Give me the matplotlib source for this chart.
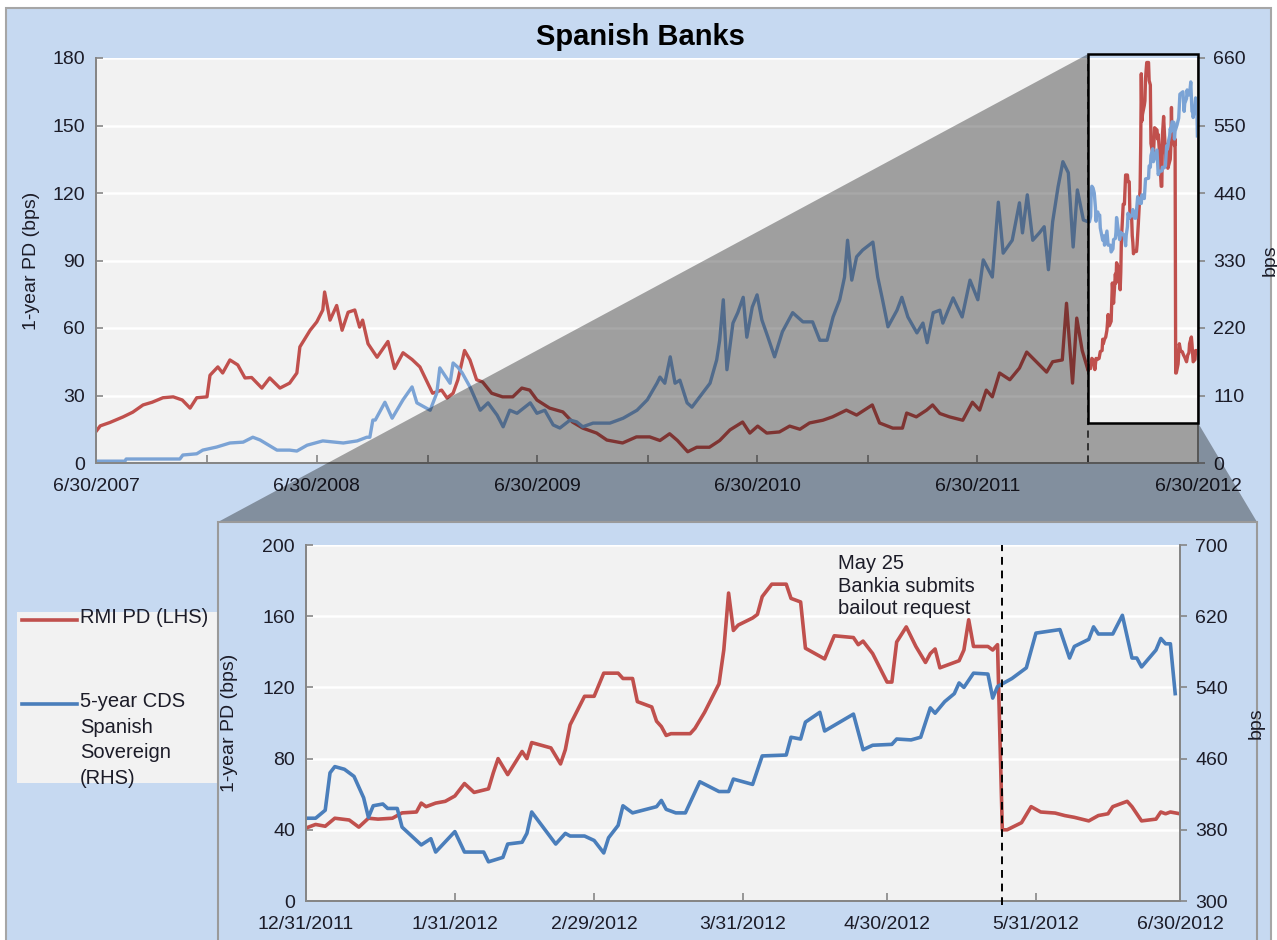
import matplotlib
matplotlib.use("Agg")
import matplotlib.pyplot as plt
import matplotlib.dates as mdates
import matplotlib.transforms as mtransforms
from matplotlib.patches import Rectangle, Polygon
from matplotlib.lines import Line2D
import pandas as pd

plt.rcParams['font.family'] = ['Liberation Sans', 'DejaVu Sans']

# ---- full period 6/30/2007 - 12/2011 ----
rmi_dates = [
    "2007-06-30", "2007-07-07", "2007-07-23", "2007-08-14", "2007-08-30", "2007-09-16",
    "2007-10-01", "2007-10-19", "2007-11-05", "2007-11-20", "2007-12-03", "2007-12-14",
    "2007-12-31", "2008-01-05", "2008-01-18", "2008-01-26", "2008-02-07", "2008-02-20",
    "2008-03-03", "2008-03-14", "2008-03-31", "2008-04-13", "2008-04-30", "2008-05-16",
    "2008-05-28", "2008-06-02", "2008-06-19", "2008-06-30", "2008-07-10", "2008-07-13",
    "2008-07-22", "2008-08-02", "2008-08-11", "2008-08-21", "2008-09-01", "2008-09-09",
    "2008-09-14", "2008-09-23", "2008-10-08", "2008-10-26", "2008-11-06", "2008-11-20",
    "2008-12-05", "2008-12-18", "2008-12-31", "2009-01-08", "2009-01-23", "2009-02-01",
    "2009-02-11", "2009-02-19", "2009-03-02", "2009-03-11", "2009-03-22", "2009-04-01",
    "2009-04-16", "2009-05-04", "2009-05-21", "2009-06-05", "2009-06-18", "2009-06-30",
    "2009-07-21", "2009-08-12", "2009-08-28", "2009-09-14", "2009-10-07", "2009-10-24",
    "2009-11-19", "2009-12-12", "2010-01-03", "2010-01-20", "2010-02-05", "2010-02-18",
    "2010-03-07", "2010-03-22", "2010-04-12", "2010-04-29", "2010-05-16", "2010-06-06",
    "2010-06-18", "2010-07-01", "2010-07-16", "2010-08-06", "2010-08-23", "2010-09-09",
    "2010-09-25", "2010-10-17", "2010-11-02", "2010-11-25", "2010-12-12", "2011-01-07",
    "2011-01-19", "2011-02-10", "2011-02-26", "2011-03-05", "2011-03-21", "2011-04-07",
    "2011-04-17", "2011-04-29", "2011-05-15", "2011-06-06", "2011-06-22", "2011-07-04",
    "2011-07-15", "2011-07-25", "2011-08-06", "2011-08-23", "2011-09-08", "2011-09-20",
    "2011-10-06", "2011-10-23", "2011-11-02", "2011-11-18", "2011-11-25", "2011-12-05",
    "2011-12-12", "2011-12-21",
]
rmi_pd = [
    14, 16.5, 18, 20.5, 22.6, 25.8,
    27, 29, 29.4, 28, 24.4, 29,
    29.4, 39, 42.7, 40, 45.8, 43.6,
    37.8, 38, 33.3, 37.8, 33.3, 35.5,
    40, 51.6, 59, 62.7, 68, 76,
    63.5, 70, 59, 67, 68, 60.4,
    63.5, 53, 47, 54, 42, 49,
    46, 42.7, 35.5, 31, 32.4, 28.9,
    31, 37, 50, 45.8, 37, 36,
    31, 29.4, 29.4, 33.3, 32.4, 28,
    24.4, 22.7, 18.2, 15.5, 13.3, 10.2,
    8.9, 11.6, 11.6, 10, 13, 10,
    5, 7, 7, 10, 14.7, 18.2,
    13.3, 16.4, 13.3, 13.8, 16.4, 15,
    17.8, 19, 20.5, 23.5, 21.3, 25.8,
    17.8, 15.5, 15.5, 22.2, 20.5, 23.5,
    25.8, 22, 20.5, 19, 27, 23.5,
    32.4, 29.4, 40, 37, 42.2, 49.3,
    45, 40.4, 45, 45.8, 71, 35.5,
    64.4, 50,
]

cds_dates = [
    "2007-06-30", "2007-08-17", "2007-08-19", "2007-11-16", "2007-11-21", "2007-12-14",
    "2007-12-24", "2008-01-16", "2008-02-07", "2008-02-29", "2008-03-16", "2008-03-28",
    "2008-04-08", "2008-04-25", "2008-05-16", "2008-05-28", "2008-06-14", "2008-07-10",
    "2008-08-13", "2008-09-05", "2008-09-21", "2008-09-26", "2008-10-01", "2008-10-05",
    "2008-10-21", "2008-11-02", "2008-11-20", "2008-12-05", "2008-12-13", "2009-01-04",
    "2009-01-15", "2009-01-20", "2009-02-06", "2009-02-11", "2009-02-19", "2009-02-26",
    "2009-03-11", "2009-03-28", "2009-04-10", "2009-04-25", "2009-05-05", "2009-05-16",
    "2009-05-28", "2009-06-19", "2009-06-30", "2009-07-13", "2009-07-27", "2009-08-07",
    "2009-08-24", "2009-09-04", "2009-09-14", "2009-10-01", "2009-10-29", "2009-11-20",
    "2009-12-13", "2009-12-30", "2010-01-15", "2010-01-20", "2010-01-28", "2010-02-06",
    "2010-02-14", "2010-02-22", "2010-03-06", "2010-03-14", "2010-03-27", "2010-04-13",
    "2010-04-24", "2010-04-29", "2010-05-05", "2010-05-11", "2010-05-21", "2010-05-29",
    "2010-06-07", "2010-06-13", "2010-06-22", "2010-06-30", "2010-07-08", "2010-07-18",
    "2010-07-29", "2010-08-11", "2010-08-28", "2010-09-14", "2010-09-30", "2010-10-12",
    "2010-10-24", "2010-11-03", "2010-11-14", "2010-11-22", "2010-11-27", "2010-12-04",
    "2010-12-12", "2010-12-22", "2011-01-08", "2011-01-16", "2011-01-24", "2011-02-02",
    "2011-02-17", "2011-02-25", "2011-03-07", "2011-03-22", "2011-04-01", "2011-04-08",
    "2011-04-18", "2011-04-29", "2011-05-04", "2011-05-21", "2011-06-05", "2011-06-18",
    "2011-07-01", "2011-07-10", "2011-07-25", "2011-08-04", "2011-08-12", "2011-08-27",
    "2011-09-08", "2011-09-13", "2011-09-21", "2011-09-30", "2011-10-11", "2011-10-19",
    "2011-10-26", "2011-11-02", "2011-11-11", "2011-11-19", "2011-11-28", "2011-12-06",
    "2011-12-13", "2011-12-23",
]
cds = [
    3, 3, 6.5, 6.5, 13, 15,
    21, 26, 32.6, 34, 42, 37.5,
    31, 21, 21, 19.5, 29, 36,
    32.6, 36, 42, 42, 70, 70,
    99, 73, 103, 124, 98, 86,
    114, 155, 130, 163, 156, 147,
    124, 86, 98, 78, 59, 86,
    81, 98, 81, 86, 62, 57,
    70, 67, 59, 65, 65, 73,
    86, 103, 130, 140, 130, 173,
    130, 135, 98, 91, 108, 130,
    168, 200, 266, 152, 228, 245,
    270, 205, 254, 274, 233, 205,
    173, 214, 245, 230, 230, 200,
    200, 238, 266, 303, 363, 298,
    336, 347, 360, 303, 266, 222,
    249, 270, 238, 212, 228, 196,
    245, 249, 228, 269, 238, 298,
    266, 331, 303, 425, 342, 363,
    424, 375, 437, 363, 375, 385,
    315, 393, 450, 491, 473, 352,
    445, 396,
]

# ---- zoomed period 12/31/2011 - 6/30/2012 ----
zoom_rmi_dates = [
    "2011-12-31", "2012-01-02", "2012-01-04", "2012-01-06", "2012-01-09", "2012-01-11",
    "2012-01-13", "2012-01-15", "2012-01-18", "2012-01-20", "2012-01-23", "2012-01-24",
    "2012-01-25", "2012-01-27", "2012-01-29", "2012-01-31", "2012-02-02", "2012-02-04",
    "2012-02-07", "2012-02-08", "2012-02-09", "2012-02-11", "2012-02-14", "2012-02-15",
    "2012-02-16", "2012-02-20", "2012-02-22", "2012-02-23", "2012-02-24", "2012-02-27",
    "2012-02-29", "2012-03-02", "2012-03-05", "2012-03-06", "2012-03-08", "2012-03-09",
    "2012-03-12", "2012-03-13", "2012-03-14", "2012-03-15", "2012-03-16", "2012-03-20",
    "2012-03-21", "2012-03-23", "2012-03-26", "2012-03-27", "2012-03-28", "2012-03-29",
    "2012-03-30", "2012-04-02", "2012-04-03", "2012-04-04", "2012-04-06", "2012-04-09",
    "2012-04-10", "2012-04-12", "2012-04-13", "2012-04-17", "2012-04-19", "2012-04-23",
    "2012-04-24", "2012-04-25", "2012-04-27", "2012-04-30", "2012-05-01", "2012-05-02",
    "2012-05-04", "2012-05-06", "2012-05-08", "2012-05-09", "2012-05-10", "2012-05-11",
    "2012-05-15", "2012-05-16", "2012-05-17", "2012-05-18", "2012-05-21", "2012-05-22",
    "2012-05-23", "2012-05-24", "2012-05-25", "2012-05-28", "2012-05-30", "2012-06-01",
    "2012-06-04", "2012-06-06", "2012-06-08", "2012-06-11", "2012-06-13", "2012-06-15",
    "2012-06-16", "2012-06-19", "2012-06-20", "2012-06-22", "2012-06-25", "2012-06-26",
    "2012-06-27", "2012-06-28", "2012-06-30",
]
zoom_rmi_pd = [
    41, 43, 42, 46.5, 45.5, 41.5,
    46.5, 46, 46.5, 49.5, 50, 55,
    53, 55, 56, 59, 66, 61,
    63, 72, 80, 71, 84, 80,
    89, 86, 77, 85, 99, 115,
    115, 128, 128, 125, 125, 112,
    109, 101, 98, 93, 94, 94,
    97, 106, 122, 141, 173, 152,
    155, 159, 161, 171, 178, 178,
    170, 168, 142, 136, 149, 148,
    144, 146, 139, 123, 123, 145.5,
    154, 143, 134, 139, 141.6, 131,
    135, 141, 158, 143, 143, 141,
    144, 40, 40, 44, 53, 50,
    49.4, 48, 47, 45, 48, 49,
    53, 56, 53, 45, 46, 50,
    49, 50, 49,
]

zoom_cds_dates = [
    "2011-12-31", "2012-01-02", "2012-01-04", "2012-01-05", "2012-01-06", "2012-01-08",
    "2012-01-10", "2012-01-12", "2012-01-13", "2012-01-14", "2012-01-16", "2012-01-17",
    "2012-01-19", "2012-01-20", "2012-01-24", "2012-01-26", "2012-01-27", "2012-01-31",
    "2012-02-02", "2012-02-06", "2012-02-07", "2012-02-10", "2012-02-11", "2012-02-14",
    "2012-02-15", "2012-02-16", "2012-02-21", "2012-02-23", "2012-02-24", "2012-02-27",
    "2012-02-29", "2012-03-02", "2012-03-03", "2012-03-05", "2012-03-06", "2012-03-08",
    "2012-03-13", "2012-03-14", "2012-03-15", "2012-03-17", "2012-03-19", "2012-03-22",
    "2012-03-26", "2012-03-28", "2012-03-29", "2012-04-02", "2012-04-04", "2012-04-09",
    "2012-04-10", "2012-04-12", "2012-04-13", "2012-04-16", "2012-04-17", "2012-04-23",
    "2012-04-25", "2012-04-27", "2012-05-01", "2012-05-02", "2012-05-05", "2012-05-07",
    "2012-05-09", "2012-05-10", "2012-05-12", "2012-05-14", "2012-05-15", "2012-05-16",
    "2012-05-18", "2012-05-21", "2012-05-22", "2012-05-23", "2012-05-26", "2012-05-29",
    "2012-05-31", "2012-06-05", "2012-06-07", "2012-06-08", "2012-06-11", "2012-06-12",
    "2012-06-13", "2012-06-16", "2012-06-18", "2012-06-20", "2012-06-21", "2012-06-22",
    "2012-06-25", "2012-06-26", "2012-06-27", "2012-06-28", "2012-06-29",
]
zoom_cds = [
    393, 393, 402, 444, 451, 448,
    440, 416, 394, 407, 409, 404,
    404, 383, 363, 370, 355, 378,
    355, 355, 344, 349, 364, 366,
    376, 400, 364, 376, 373, 373,
    368, 354, 371, 385, 407, 399,
    406, 413, 403, 399, 399, 434,
    423, 423, 437, 431, 463, 464,
    484, 482, 501, 512, 491, 510,
    470, 475, 476, 482, 481, 484,
    517, 511, 524, 533, 545, 540,
    556, 555, 528, 541, 550, 562,
    601, 605, 573, 586, 594, 608,
    600, 600, 621, 573, 573, 563,
    582, 595, 589, 589, 533,
]

top_ticks = ["6/30/2007", "6/30/2008", "6/30/2009", "6/30/2010", "6/30/2011", "6/30/2012"]
top_minor = ["12/31/2007", "12/31/2008", "12/31/2009", "12/31/2010", "12/31/2011"]
zoom_ticks = ["12/31/2011", "1/31/2012", "2/29/2012", "3/31/2012", "4/30/2012", "5/31/2012", "6/30/2012"]
event_date = "2012-05-24"
event_text = "May 25\nBankia submits\nbailout request"

RED = '#C0504D'
BLUE = '#4A7EBB'
BLUE_TOP = '#7BA3D5'
PANEL = '#C6D9F1'
PLOT_BG = '#F2F2F2'
AXIS_GREY = '#868686'
TEXT = '#1C1C28'
FS = 14

W, H = 1277, 940


def fig_box(left, top, right, bottom):
    # pixel box measured from the top-left corner -> figure fraction
    return [left / W, 1 - bottom / H, (right - left) / W, (bottom - top) / H]


def fig_pt(x, y):
    return (x / W, 1 - y / H)


def style_axes(ax, ax_r):
    ax.set_facecolor(PLOT_BG)
    ax.set_axisbelow(True)
    ax.grid(axis='y', color='white', lw=1.8)
    for a in (ax, ax_r):
        a.spines['top'].set_visible(False)
        for s in ('left', 'right', 'bottom'):
            a.spines[s].set_color(AXIS_GREY)
            a.spines[s].set_linewidth(1.4)
    ax.tick_params(axis='y', direction='in', length=5, width=1.2, color=AXIS_GREY,
                   labelsize=FS, labelcolor=TEXT, pad=8)
    ax_r.tick_params(axis='y', direction='out', length=5, width=1.2, color=AXIS_GREY,
                     labelsize=FS, labelcolor=TEXT, pad=6)
    ax.tick_params(axis='x', which='both', direction='in', length=6, width=1.2,
                   color=AXIS_GREY, labelsize=FS, labelcolor=TEXT, pad=11)


fig = plt.figure(figsize=(W / 100, H / 100), dpi=100)
fig.patch.set_facecolor('white')
fig.add_artist(Rectangle((6 / W, -0.01), (1271 - 6) / W, 1.01 - 8 / H, transform=fig.transFigure,
                         facecolor=PANEL, edgecolor='#A6A6A6', lw=1.5, zorder=-10))

fig.text(640 / W, 1 - 37 / H, 'Spanish Banks', ha='center', va='center',
         fontsize=21, fontweight='bold', color='black')

# ---- top panel: whole period ----
ax = fig.add_axes(fig_box(96, 58, 1198, 463))
ax2 = ax.twinx()
style_axes(ax, ax2)

ax.plot(pd.to_datetime(rmi_dates + zoom_rmi_dates), rmi_pd + zoom_rmi_pd, color=RED, lw=2.4)
ax2.plot(pd.to_datetime(cds_dates + zoom_cds_dates), cds + zoom_cds, color=BLUE_TOP, lw=2.4)

ax.set_ylim(0, 180)
ax.set_yticks(range(0, 181, 30))
ax2.set_ylim(0, 660)
ax2.set_yticks(range(0, 661, 110))
major = pd.to_datetime(top_ticks, format='%m/%d/%Y')
ax.set_xlim(major[0], major[-1])
ax.set_xticks(major)
ax.set_xticklabels(top_ticks)
ax.set_xticks(pd.to_datetime(top_minor, format='%m/%d/%Y'), minor=True)

ax.set_ylabel('1-year PD (bps)', fontsize=FS, color=TEXT)
ax.yaxis.set_label_coords(-0.051, 0.5)
ax2.set_ylabel('bps', fontsize=FS, color=TEXT, rotation=90)
ax2.yaxis.set_label_coords(1.058, 0.5)

zoom_start = pd.to_datetime(zoom_ticks[0], format='%m/%d/%Y')
zoom_end = pd.to_datetime(zoom_ticks[-1], format='%m/%d/%Y')
ax.axvline(zoom_start, color='#404040', ls=(0, (4, 3)), lw=1.3)

# ---- lower panel: zoom ----
fig.add_artist(Rectangle((218 / W, -0.02), (1257 - 218) / W, 1.02 - 522 / H, transform=fig.transFigure,
                         facecolor=PANEL, edgecolor='#9A9A9A', lw=1.5, zorder=2))

axz = fig.add_axes(fig_box(306, 545, 1180, 901))
axz2 = axz.twinx()
axz.set_zorder(3)
axz2.set_zorder(3.1)
style_axes(axz, axz2)

axz.plot(pd.to_datetime(zoom_rmi_dates), zoom_rmi_pd, color=RED, lw=2.6)
axz2.plot(pd.to_datetime(zoom_cds_dates), zoom_cds, color=BLUE, lw=2.6)
axz2.axvline(pd.Timestamp(event_date), ymin=-0.01, ymax=1.0, color='black',
             ls=(0, (4, 3)), lw=1.4, clip_on=False, zorder=5)

axz.set_ylim(0, 200)
axz.set_yticks(range(0, 201, 40))
axz2.set_ylim(300, 700)
axz2.set_yticks(range(300, 701, 80))
zt = pd.to_datetime(zoom_ticks, format='%m/%d/%Y')
axz.set_xlim(zt[0], zt[-1])
axz.set_xticks(zt)
axz.set_xticklabels(zoom_ticks)

axz.set_ylabel('1-year PD (bps)', fontsize=FS, color=TEXT)
axz.yaxis.set_label_coords(-0.078, 0.5)
axz2.set_ylabel('bps', fontsize=FS, color=TEXT, rotation=90)
axz2.yaxis.set_label_coords(1.078, 0.5)

axz.text(0.609, 0.975, event_text, transform=axz.transAxes, ha='left', va='top',
         fontsize=14.5, color=TEXT, linespacing=1.25)

# ---- zoom box on the top panel and the grey "lens" joining it to the lower panel ----
blend = mtransforms.blended_transform_factory(ax.transData, ax.transAxes)
to_fig = fig.transFigure.inverted()


def box_corner(date, yfrac):
    return to_fig.transform(blend.transform((mdates.date2num(date), yfrac)))


tl = box_corner(zoom_start, 1.01)
bl = box_corner(zoom_start, 0.099)
br = box_corner(zoom_end, 0.099)
fig.add_artist(Polygon([tl, fig_pt(218, 522), fig_pt(1257, 522), br, bl], closed=True,
                       transform=fig.transFigure, facecolor='black', alpha=0.34,
                       edgecolor='none', zorder=1))
fig.add_artist(Rectangle(bl, br[0] - bl[0], tl[1] - bl[1], transform=fig.transFigure,
                         fill=False, edgecolor='black', lw=1.8, zorder=1.5))

# ---- legend ----
fig.add_artist(Rectangle(fig_pt(17, 783), (220 - 17) / W, (783 - 612) / H, transform=fig.transFigure,
                         facecolor=PLOT_BG, edgecolor='none', zorder=1.8))
legend_items = [(RED, 'RMI PD (LHS)', 620), (BLUE, '5-year CDS\nSpanish\nSovereign\n(RHS)', 704)]
for colour, label, y in legend_items:
    x0, y0 = fig_pt(22, y)
    x1, _ = fig_pt(77, y)
    fig.add_artist(Line2D([x0, x1], [y0, y0], transform=fig.transFigure, color=colour, lw=2.6, zorder=1.9))
    fig.text(80 / W, 1 - (y - 12) / H, label, ha='left', va='top', fontsize=14.5,
             color=TEXT, linespacing=1.45, zorder=1.9)

fig.savefig('out.png', dpi=100, facecolor=fig.get_facecolor())
